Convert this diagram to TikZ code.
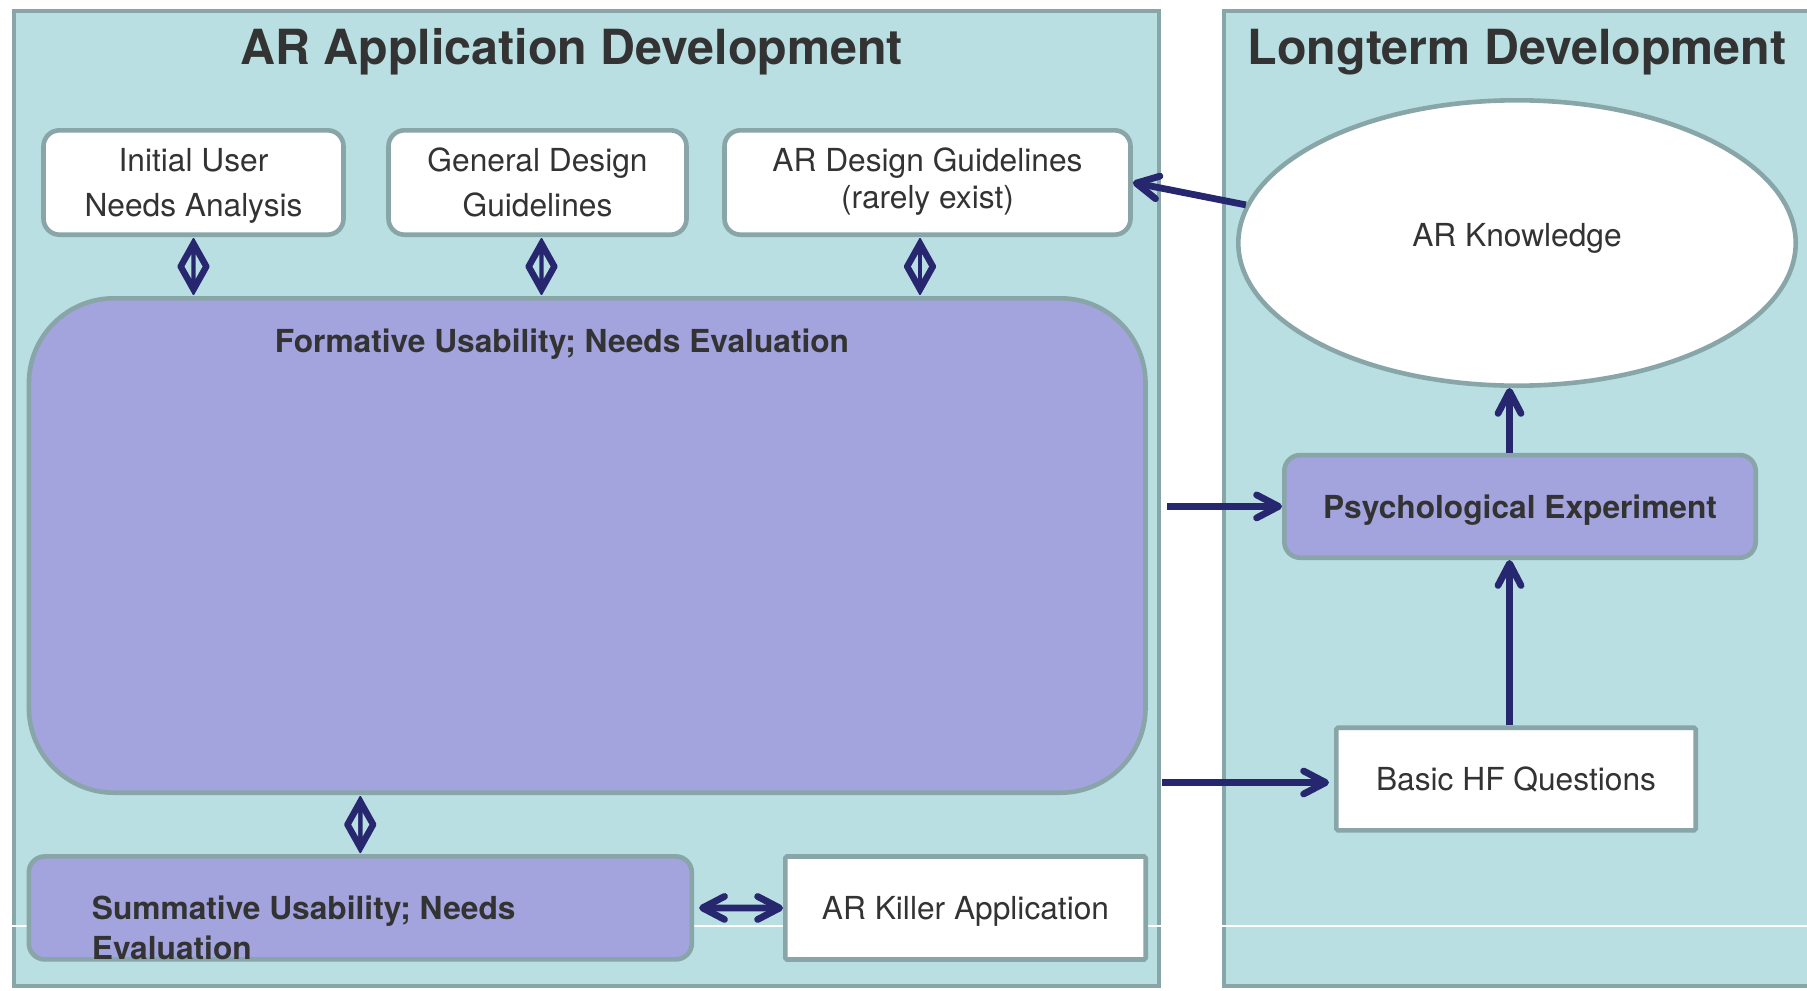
\documentclass[tikz,border=0pt]{standalone}
\usepackage{fontspec}
\setmainfont{TeX Gyre Heros}
\usetikzlibrary{arrows.meta,shapes.geometric,calc}
\definecolor{panelc}{HTML}{B9DFE2}
\definecolor{bordc}{HTML}{88A5A8}
\definecolor{lavc}{HTML}{A3A3DE}
\definecolor{navyc}{HTML}{27276F}
\definecolor{txtc}{HTML}{333333}
\newcommand{\tlines}[3]{\raisebox{#1}[\height][\depth]{\begin{tabular}{@{}c@{}}#2\\#3\end{tabular}}}
% two-headed diamond connector between two points on one vertical
\newcommand{\diam}[2]{%
  \coordinate (dT) at (#1);
  \coordinate (dB) at (#2);
  \coordinate (dM) at ($(dT)!0.5!(dB)$);
  \fill[navyc, rounded corners=0.6pt] (dT) -- ($(dM)+(16.5,0)$) -- (dB) -- ($(dM)+(-16.5,0)$) -- cycle;
  \fill[panelc] ($(dM)+(-2.2,-12)$) -- ($(dM)+(-9,0)$) -- ($(dM)+(-2.2,12)$) -- cycle;
  \fill[panelc] ($(dM)+(2.2,-12)$) -- ($(dM)+(9,0)$) -- ($(dM)+(2.2,12)$) -- cycle;}
\begin{document}
\begin{tikzpicture}[x=0.5pt,y=-0.5pt,
  every node/.style={text=txtc, font=\fontsize{15.85pt}{22.5pt}\selectfont, inner sep=0pt},
  panelsty/.style={draw=bordc, fill=panelc, line width=2.3pt},
  wbox/.style={rectangle, draw=bordc, fill=white, line width=2.3pt, rounded corners=8pt, align=center},
  pbox/.style={rectangle, draw=bordc, fill=lavc, line width=2.3pt, rounded corners=8pt, font=\fontsize{15.85pt}{20pt}\selectfont\bfseries, text depth=0pt},
  sqbox/.style={rectangle, draw=bordc, fill=white, line width=2.3pt, rounded corners=0.8pt, text depth=0pt},
  titlesty/.style={anchor=base, font=\fontsize{24.2pt}{28pt}\selectfont\bfseries},
  nbarb/.tip={Straight Barb[length=11pt,width=11.5pt,round]},
  arr/.style={draw=navyc, line width=3.4pt, -nbarb},
  darr/.style={draw=navyc, line width=3.4pt, nbarb-nbarb}
]
\useasboundingbox (0,0) rectangle (1807,990);
\begin{scope}
\clip (0,0) rectangle (1807,990);
\draw[panelsty] (14,11) rectangle (1159,986);
\draw[panelsty] (1224,11) rectangle (1830,986);
\end{scope}
\draw[white, line width=0.75pt] (0,926) -- (1807,926);

\node[titlesty] (t1) at (571.6,65) {AR Application Development};
\node[titlesty] (t2) at (1517,65) {Longterm Development};

\node[wbox, minimum width=150pt, minimum height=52.2pt] (b1) at (193.5,182.5) {\tlines{-1.35pt}{Initial User}{Needs Analysis}};
\node[wbox, minimum width=149pt, minimum height=52.2pt] (b2) at (537.5,182.5) {\tlines{-1.35pt}{General Design}{Guidelines}};
\node[wbox, minimum width=203pt, minimum height=52.2pt, font=\fontsize{15.85pt}{18.5pt}\selectfont] (b3) at (927.5,182.5) {\tlines{0pt}{AR Design Guidelines}{(rarely exist)}};

\node[pbox, rounded corners=42.5pt, minimum width=558.3pt, minimum height=247.2pt] (form) at (587.2,545.5) {};
\node[anchor=base, font=\fontsize{15.85pt}{20pt}\selectfont\bfseries] (formtxt) at (562,352) {Formative Usability; Needs Evaluation};

\node[pbox, minimum width=331.5pt, minimum height=51.5pt] (sum) at (360.3,907.9) {};
\node[anchor=north west, align=left, font=\fontsize{15.85pt}{20pt}\selectfont\bfseries] (sumtxt) at (91.5,895.7) {Summative Usability; Needs\\Evaluation};

\node[sqbox, minimum width=180.2pt, minimum height=51.5pt] (kill) at (965.5,908) {AR Killer Application};

\node[ellipse, draw=bordc, fill=white, line width=2.3pt, minimum width=278.7pt, minimum height=142.7pt, text depth=8.25pt] (ek) at (1517,243) {AR Knowledge};

\node[pbox, minimum width=235.7pt, minimum height=51.35pt] (psych) at (1520,506.4) {Psychological Experiment};
\node[sqbox, minimum width=179.7pt, minimum height=51.3pt] (basic) at (1516,779) {Basic HF Questions};

\coordinate (a1) at (1167,506.4);
\coordinate (a2) at (1162,782.5);

% diamond double connectors
\diam{b1.south}{b1.south |- form.north}
\diam{[xshift=2pt]b2.south}{[xshift=2pt]b2.south |- form.north}
\diam{[xshift=-3.75pt]b3.south}{[xshift=-3.75pt]b3.south |- form.north}
\diam{sum.north}{sum.north |- form.south}

\draw[darr, shorten <=2.5pt] (sum.east) -- (kill.west);

\draw[arr] (ek.172) -- (b3.east);
\draw[arr] ([xshift=-5.25pt]psych.north) -- ([xshift=-5.25pt]psych.north |- ek.south);
\draw[arr] ([xshift=-3.25pt]basic.north) -- ([xshift=-3.25pt]basic.north |- psych.south);
\draw[arr] (a1) -- (psych.west);
\draw[arr, shorten >=2.5pt] (a2) -- (a2 -| basic.west);
\end{tikzpicture}
\end{document}
